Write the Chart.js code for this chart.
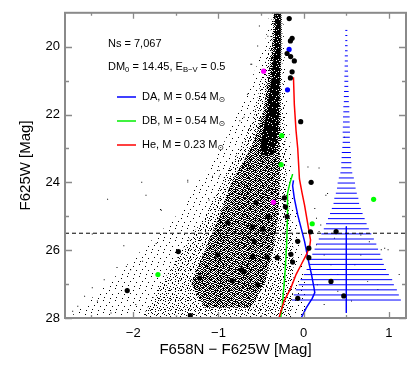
<!DOCTYPE html>
<html>
<head>
<meta charset="utf-8">
<script src="https://cdn.jsdelivr.net/npm/chart.js@4"></script>
<style>
html,body{margin:0;padding:0;background:#fff}
#wrap{width:415px;height:368px}
</style>
</head>
<body>
<div id="wrap"><canvas id="cmd"></canvas></div>
<script>
// axis ticks
const xTicks = [-2, -1, 0, 1];
const xMinor = [-2.5, -1.5, -0.5, 0.5];
const yTicks = [20, 22, 24, 26, 28];
const yMinor = [21, 23, 25, 27];

// cooling tracks (colour, magnitude)
const trackDA = [[-0.12,23.94],[-0.13,24.1],[-0.11,24.47],[-0.07,24.96],[-0.03,25.35],[0.01,25.74],[0.05,26.25],[0.09,26.7],[0.12,27.1],[0.13,27.25],[0.1,27.42],[0.03,27.7],[-0.03,28.0]];
const trackDB = [[-0.13,23.76],[-0.16,24.0],[-0.19,24.33],[-0.19,25.0],[-0.2,25.84],[-0.22,26.7],[-0.25,27.6],[-0.27,28.0]];
const trackHe = [[-0.12,20.9],[-0.11,21.7],[-0.09,22.47],[-0.07,23.0],[-0.05,23.9],[-0.02,24.3],[0.01,24.67],[0.05,25.26],[0.08,25.7],[0.07,25.9],[0.03,26.14],[-0.03,26.43],[-0.09,26.72],[-0.15,27.11],[-0.23,27.5],[-0.29,28.0]];

// histogram at colour 0.5: bin magnitudes and half widths (in colour)
const histCentre = 0.5;
const histMag = [19.52,19.67,19.82,19.97,20.12,20.27,20.42,20.57,20.72,20.87,21.02,21.17,21.32,21.47,21.62,21.77,21.92,22.07,22.22,22.37,22.52,22.67,22.82,22.97,23.12,23.27,23.42,23.57,23.72,23.87,24.02,24.17,24.32,24.47,24.62,24.77,24.92,25.07,25.22,25.37,25.52,25.67,25.82,25.97,26.12,26.27,26.42,26.57,26.72,26.87,27.02,27.17,27.32,27.47];
const histHalf = [0.012,0.012,0.012,0.015,0.015,0.018,0.018,0.02,0.02,0.023,
  0.023,0.023,0.027,0.029,0.029,0.035,0.035,0.039,0.039,0.041,
  0.043,0.041,0.043,0.047,0.053,0.055,0.059,0.059,0.07,0.088,
  0.102,0.109,0.123,0.141,0.15,0.17,0.191,0.215,0.238,0.264,
  0.293,0.323,0.352,0.372,0.399,0.423,0.44,0.466,0.499,0.538,
  0.558,0.593,0.616,0.64];
const histStem = [25.3, 27.85];
const limitMag = 25.5;

// star cloud density outlines (colour, magnitude), sparse -> dense
const cloudOuter = [[-0.4,19.0],[-0.46,20.0],[-0.62,21.0],[-0.78,22.0],[-0.97,23.0],[-1.24,24.0],[-1.5,25.0],[-1.9,26.0],[-2.3,27.0],[-2.75,28.0],
  [0.02,28.0],[0.02,27.0],[-0.03,26.0],[-0.07,25.0],[-0.12,24.0],[-0.15,23.0],[-0.19,22.0],[-0.21,21.0],[-0.23,20.0],[-0.24,19.0]];
const cloudMid = [[-0.37,19.0],[-0.4,20.0],[-0.5,21.0],[-0.58,22.0],[-0.74,23.0],[-0.97,24.0],[-1.16,25.0],[-1.43,26.0],[-1.67,27.0],[-1.9,28.0],
  [-0.15,28.0],[-0.12,27.0],[-0.12,26.0],[-0.16,25.0],[-0.2,24.0],[-0.21,23.0],[-0.23,22.0],[-0.25,21.0],[-0.25,20.0],[-0.25,19.0]];
const cloudCore = [[-0.35,19.0],[-0.37,20.0],[-0.42,21.0],[-0.48,22.0],[-0.62,23.0],[-0.85,24.0],[-0.99,25.0],[-1.16,26.0],[-1.32,27.0],[-1.16,27.7],
  [-0.62,27.7],[-0.46,27.0],[-0.36,26.0],[-0.3,25.0],[-0.28,24.0],[-0.28,23.0],[-0.27,22.0],[-0.27,21.0],[-0.26,20.0],[-0.26,19.0]];
const cloudRidge = [[-0.33,19.0],[-0.34,20.0],[-0.38,21.0],[-0.44,22.0],[-0.5,22.8],[-0.5,23.2],
  [-0.36,23.2],[-0.31,22.8],[-0.29,22.0],[-0.28,21.0],[-0.27,20.0],[-0.27,19.0]];

// scattered field stars outside the dense cloud
const fieldStars = [[-2.3,24.5],[-1.9,24.0],[-1.85,24.38],[-1.68,24.8],[-1.36,23.94],[-1.07,23.82],[-0.99,23.82],[-2.48,25.52],[-2.11,25.87],[-1.73,25.8],
  [-2.19,26.51],[-2.34,26.87],[-2.48,27.11],[-2.57,27.36],[-2.65,27.65],[-2.71,27.8],[-2.42,27.5],[-2.26,27.85],[-2.03,26.58],[-1.89,26.33],
  [-1.97,27.6],[-2.08,26.48],[-1.36,23.99],[-0.99,23.65],[-1.11,24.52],[-0.64,23.15],[-1.67,24.82],
  [0.28,24.33],[0.99,25.99],[0.91,25.99],[1.12,26.72],[0.67,26.14],[0.6,26.43],[0.75,26.92],[0.87,27.16],[0.4,26.72],[0.24,26.14],[0.18,25.45],
  [0.36,25.65],[0.15,25.84],[0.32,26.43],[0.16,27.02],[0.4,27.21],[0.56,27.5],[0.24,27.6],[0.01,27.75],[0.67,25.55],[0.77,25.75],[0.95,25.94],
  [0.2,25.26],[0.15,25.06],[0.13,24.77],[0.26,24.38],[0.05,23.55],[0.18,23.58],[0.48,22.67],
  [-0.52,19.39],[-0.42,19.69],[-0.54,19.98],[-0.61,20.52],[-0.66,21.4],[-0.75,22.18],[-0.7,22.08],[-0.62,20.52]];

// candidates
const bigBlack = [[-0.17,19.17],[-0.156,19.83],[-0.136,19.75],[-0.195,20.2],[-0.153,20.29],[-0.11,20.42],[-0.136,20.74],[-0.156,20.92],[-0.035,22.21],[0.087,24.0],
  [-0.227,24.46],[-0.215,24.72],[-0.56,24.6],[-0.42,25.01],[-0.195,25.01],[-0.89,25.19],[-0.6,25.31],[-0.48,25.38],[0.08,25.46],[0.38,25.45],
  [-0.58,25.75],[-0.07,25.74],[0.06,25.94],[0.06,26.22],[-0.15,26.12],[-0.13,26.35],[-1.47,26.04],[-1.01,26.14],[-0.6,26.19],[-0.43,26.2],
  [-0.31,26.22],[-0.73,26.58],[-0.7,26.63],[-1.22,26.82],[-0.84,26.9],[-0.54,27.02],[0.32,26.92],[-2.07,27.19],[-0.07,27.42],[0.47,27.35],[-1.33,27.93]];
const greenStars = [[-0.258,22.62],[-0.265,23.48],[0.1,25.22],[-1.71,26.72],[0.82,24.5]];
const magentaStars = [[-0.47,20.72],[-0.356,24.59]];
const blueStars = [[-0.171,20.08],[-0.19,21.27]];

const FONT = '"Liberation Sans", "DejaVu Sans", Arial, sans-serif';
const pts = a => a.map(([x, y]) => ({x, y}));

// speckle textures standing in for the thousands of 1px star dots
function makePattern(size, dots) {
  const c = document.createElement('canvas');
  c.width = size; c.height = size;
  const g = c.getContext('2d');
  g.fillStyle = '#000';
  dots.forEach(([i, j]) => g.fillRect(i, j, 1, 1));
  return g.createPattern(c, 'repeat');
}
function makeHoles(size, holes) {
  const all = [];
  for (let i = 0; i < size; i++) for (let j = 0; j < size; j++) {
    if (!holes.some(h => h[0] === i && h[1] === j)) all.push([i, j]);
  }
  return makePattern(size, all);
}
const sparseFill = makePattern(12, [[1,2],[7,0],[4,6],[10,5],[2,10],[8,9]]);
const midFill = makePattern(10, [[0,0],[5,1],[8,3],[2,3],[6,5],[0,6],[3,7],[9,8],[5,9],[1,9],[4,4],[7,7],[8,0]]);
const coreFill = makePattern(8, [[0,0],[2,0],[3,0],[6,0],[1,1],[4,1],[5,1],[7,1],[0,2],[2,2],[6,2],[7,2],
  [1,3],[3,3],[4,3],[5,3],[0,4],[3,4],[6,4],[7,4],[1,5],[2,5],[4,5],[5,5],[0,6],[3,6],[5,6],[6,6],[1,7],[2,7],[4,7],[7,7]]);
const ridgeFill = makeHoles(6, [[0,0],[3,1],[1,3],[4,4],[2,5],[5,2]]);

const histBars = [];
histMag.forEach((m, i) => {
  histBars.push({x: histCentre - histHalf[i], y: m}, {x: histCentre + histHalf[i], y: m}, {x: null, y: null});
});

const shape = (data, fill, order) => ({
  data: pts(data), showLine: true, fill: 'shape', backgroundColor: fill,
  borderWidth: 0, pointRadius: 0, order
});
const curve = (data, color, order) => ({
  data: pts(data), showLine: true, fill: false, borderColor: color,
  borderWidth: 1.5, pointRadius: 0, order
});
const dots = (data, color, order) => ({
  data: pts(data), showLine: false, backgroundColor: color, borderWidth: 0,
  pointRadius: 2.6, order
});

const frame = {
  id: 'frame',
  afterDraw(chart) {
    const {ctx, chartArea: a, scales: {x, y}} = chart;
    ctx.save();
    ctx.strokeStyle = '#8a8a8a';
    ctx.lineWidth = 1.3;
    ctx.beginPath();
    const xt = (v, len) => {
      const p = Math.round(x.getPixelForValue(v)) + 0.5;
      ctx.moveTo(p, a.bottom); ctx.lineTo(p, a.bottom - len);
      ctx.moveTo(p, a.top); ctx.lineTo(p, a.top + len);
    };
    const yt = (v, len) => {
      const p = Math.round(y.getPixelForValue(v)) + 0.5;
      ctx.moveTo(a.left, p); ctx.lineTo(a.left + len, p);
      ctx.moveTo(a.right, p); ctx.lineTo(a.right - len, p);
    };
    xTicks.forEach(v => xt(v, 6));
    xMinor.forEach(v => xt(v, 3));
    yTicks.forEach(v => yt(v, 7));
    yMinor.forEach(v => yt(v, 4));
    ctx.stroke();
    ctx.lineWidth = 2;
    ctx.strokeRect(a.left, a.top, a.right - a.left, a.bottom - a.top);
    ctx.restore();
  }
};

function drawParts(ctx, x0, yc, parts, size) {
  let xp = x0;
  parts.forEach(p => {
    const s = p.sub ? size * 0.7 : size;
    ctx.font = s + 'px ' + FONT;
    ctx.fillText(p.t, xp, yc + (p.sub ? size * 0.3 : 0));
    xp += ctx.measureText(p.t).width;
  });
}

const notes = {
  id: 'notes',
  afterDatasetsDraw(chart) {
    const {ctx, chartArea: a} = chart;
    ctx.save();
    ctx.fillStyle = '#000';
    ctx.textBaseline = 'middle';
    const L = a.left;
    drawParts(ctx, L + 43, 44, [{t: 'Ns = 7,067'}], 11);
    drawParts(ctx, L + 43, 67, [{t: 'DM'}, {t: '0', sub: true}, {t: ' = 14.45, E'}, {t: 'B\u2212V', sub: true}, {t: ' = 0.5'}], 11);
    const legend = [['#0000ff', 'DA, M = 0.54 M', 97], ['#00ee00', 'DB, M = 0.54 M', 121], ['#ff0000', 'He, M = 0.23 M', 145]];
    legend.forEach(([c, t, yy]) => {
      ctx.strokeStyle = c;
      ctx.lineWidth = 1.5;
      ctx.beginPath();
      ctx.moveTo(L + 52, yy); ctx.lineTo(L + 71, yy);
      ctx.stroke();
      drawParts(ctx, L + 77, yy, [{t: t}, {t: '\u2299', sub: true}], 11);
    });
    ctx.restore();
  }
};

new Chart(document.getElementById('cmd'), {
  type: 'scatter',
  data: {
    datasets: [
      dots(bigBlack, '#000', 0),
      dots(greenStars, '#00ff00', 0),
      dots(magentaStars, '#ff00ff', 0),
      dots(blueStars, '#0000ff', 0),
      {data: pts([[-2.8, limitMag], [1.2, limitMag]]), showLine: true, borderColor: '#000', borderWidth: 1, borderDash: [4, 3], pointRadius: 0, order: 1},
      curve(trackHe, '#ff0000', 2),
      curve(trackDA, '#0000ff', 2),
      curve(trackDB, '#00ee00', 2),
      {data: histBars, showLine: true, spanGaps: false, borderColor: '#0000ff', borderWidth: 1, pointRadius: 0, order: 3},
      {data: pts([[histCentre, histStem[0]], [histCentre, histStem[1]]]), showLine: true, borderColor: '#0000ff', borderWidth: 1, pointRadius: 0, order: 3},
      {data: pts(fieldStars), showLine: false, pointStyle: 'rect', pointRadius: 0.7, backgroundColor: '#000', borderWidth: 0, order: 4},
      shape(cloudRidge, ridgeFill, 5),
      shape(cloudCore, coreFill, 6),
      shape(cloudMid, midFill, 7),
      shape(cloudOuter, sparseFill, 8)
    ]
  },
  options: {
    responsive: true,
    maintainAspectRatio: false,
    animation: false,
    events: [],
    layout: {padding: {top: 12, right: 9, left: 0, bottom: 0}},
    plugins: {legend: {display: false}, tooltip: {enabled: false}},
    scales: {
      x: {
        type: 'linear', min: -2.8, max: 1.2,
        afterBuildTicks: s => { s.ticks = xTicks.map(v => ({value: v})); },
        afterFit: s => { s.height = 50; },
        grid: {display: false, drawTicks: false}, border: {display: false},
        ticks: {color: '#000', padding: 8, font: {family: FONT, size: 13},
          callback: v => String(v).replace('-', '\u2212')},
        title: {display: true, text: 'F658N \u2212 F625W [Mag]', color: '#000',
          font: {family: FONT, size: 15}, padding: {top: 0, bottom: 9}}
      },
      y: {
        type: 'linear', min: 19, max: 28, reverse: true,
        afterBuildTicks: s => { s.ticks = yTicks.map(v => ({value: v})); },
        afterFit: s => { s.width = 65; },
        grid: {display: false, drawTicks: false}, border: {display: false},
        ticks: {color: '#000', padding: 5, font: {family: FONT, size: 13}},
        title: {display: true, text: 'F625W [Mag]', color: '#000',
          font: {family: FONT, size: 15}, padding: {top: 17, bottom: 0}}
      }
    }
  },
  plugins: [frame, notes]
});
</script>
</body>
</html>
